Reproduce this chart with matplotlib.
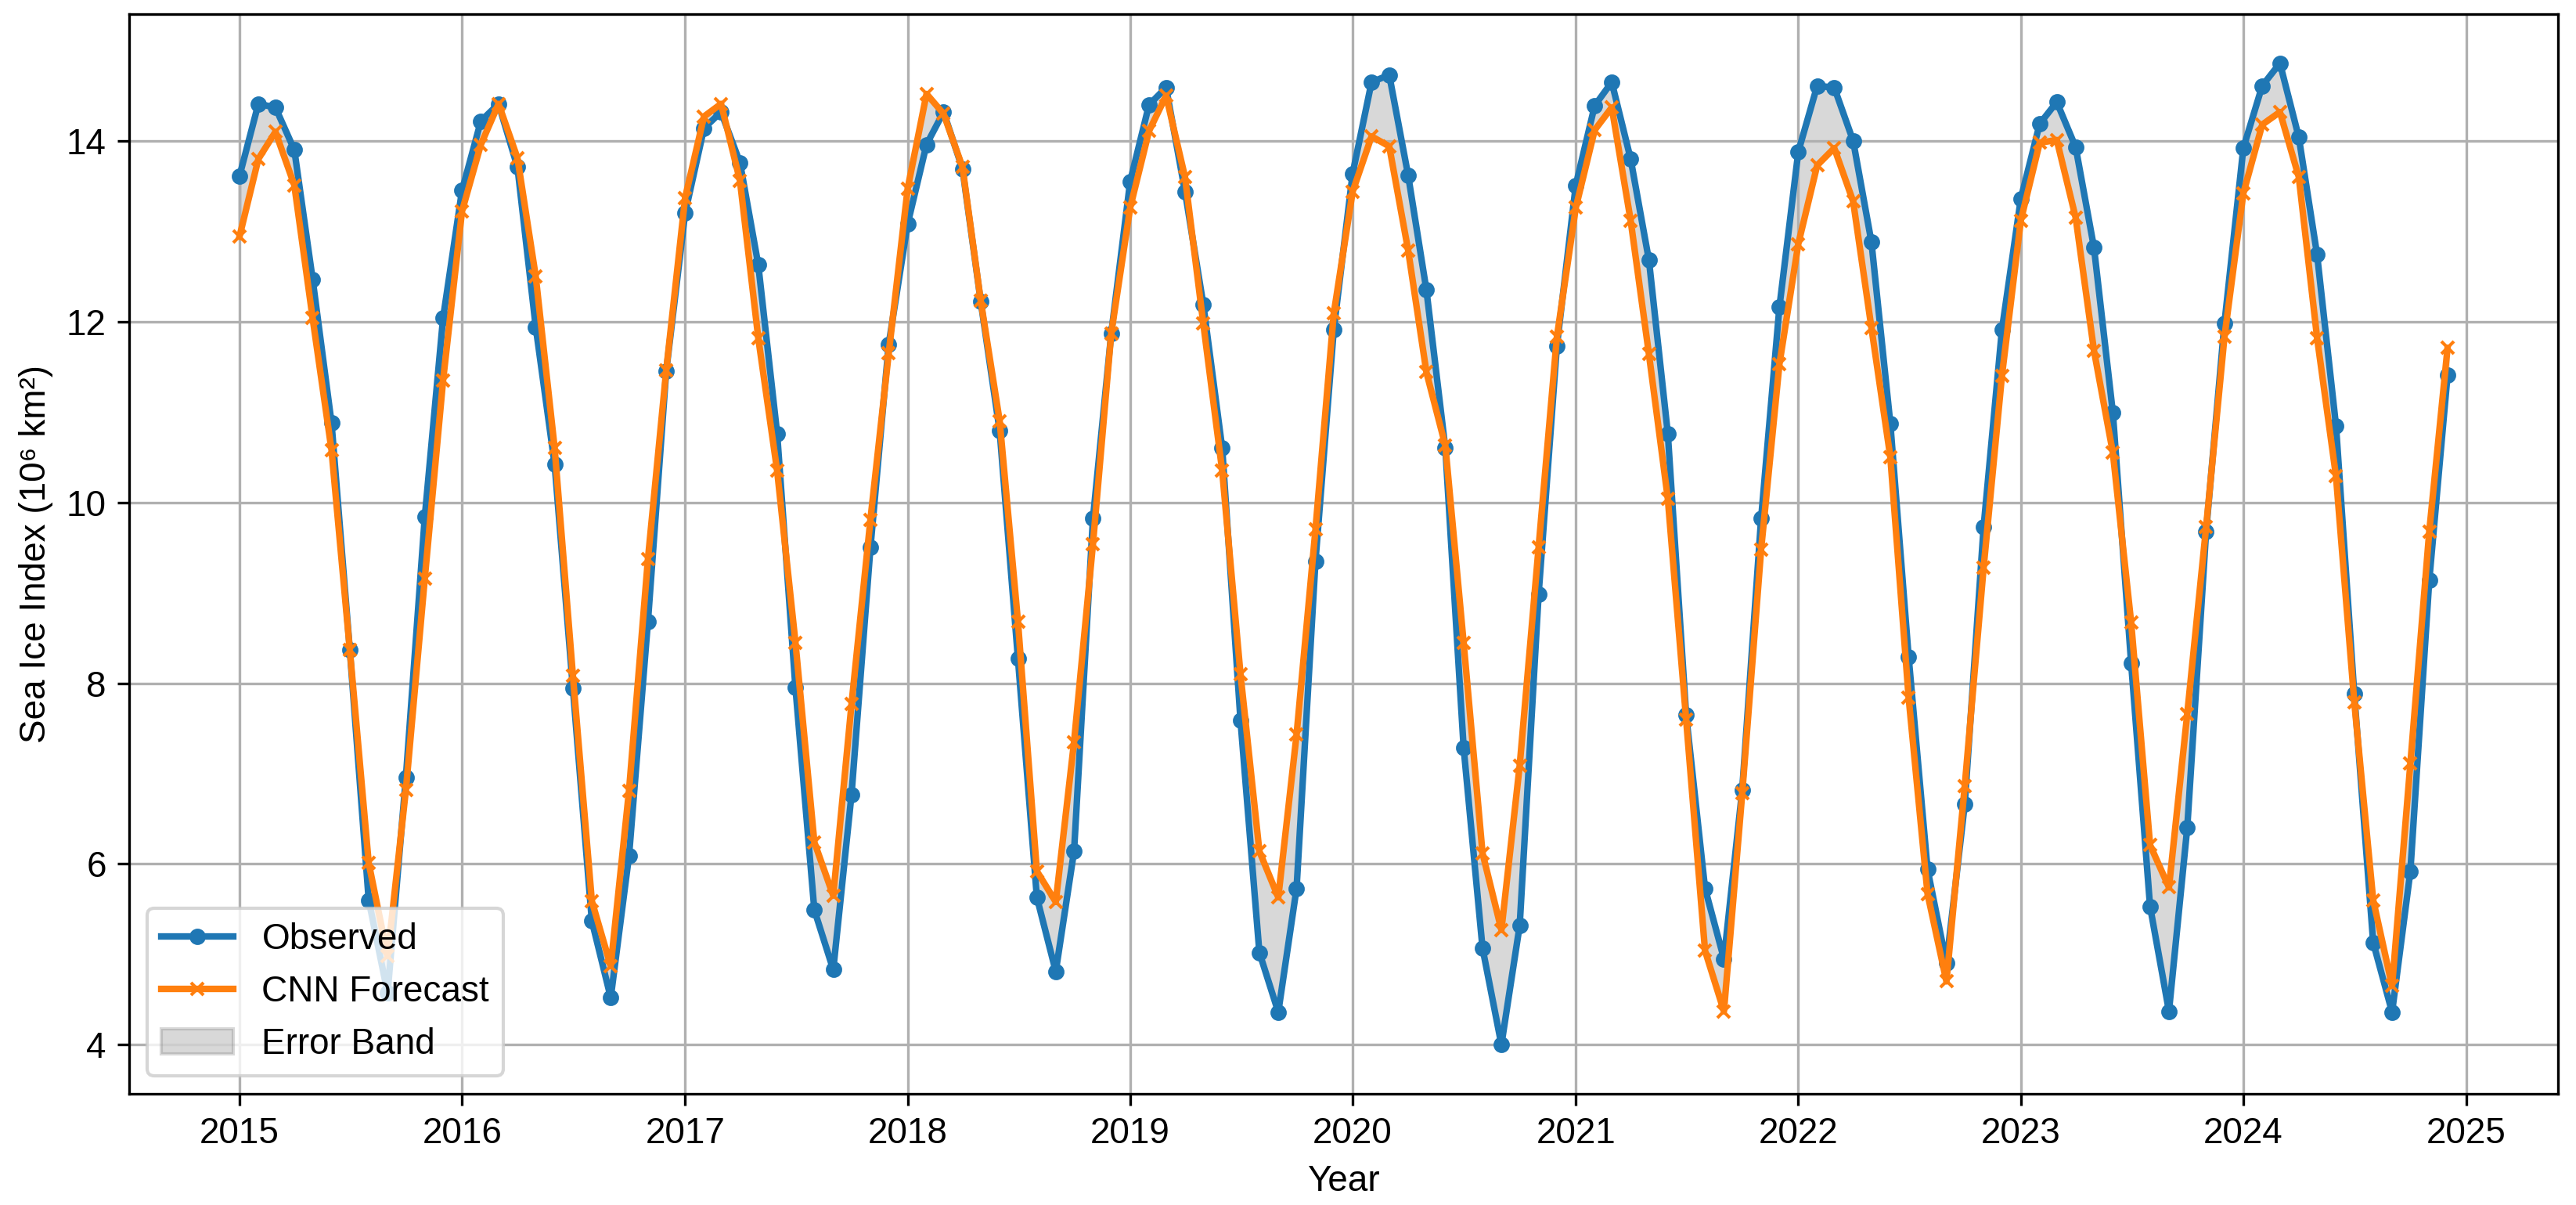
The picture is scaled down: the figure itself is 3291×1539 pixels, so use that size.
import numpy as np
import pandas as pd
import matplotlib
matplotlib.use("Agg")
import matplotlib.pyplot as plt

plt.rcParams['font.family'] = ['Liberation Sans', 'DejaVu Sans']
plt.rcParams['font.size'] = 11

# monthly values, Jan 2015 .. Dec 2024
observed = [
    13.61, 14.41, 14.37, 13.90, 12.47, 10.88, 8.37, 5.60, 4.57, 6.96, 9.84, 12.04,
    13.45, 14.22, 14.41, 13.71, 11.94, 10.42, 7.94, 5.37, 4.52, 6.09, 8.68, 11.45,
    13.20, 14.14, 14.32, 13.76, 12.63, 10.76, 7.95, 5.49, 4.83, 6.77, 9.50, 11.75,
    13.08, 13.96, 14.32, 13.69, 12.22, 10.79, 8.27, 5.63, 4.81, 6.14, 9.82, 11.87,
    13.55, 14.40, 14.59, 13.44, 12.19, 10.60, 7.59, 5.02, 4.36, 5.73, 9.35, 11.91,
    13.64, 14.65, 14.73, 13.62, 12.35, 10.60, 7.29, 5.07, 4.00, 5.32, 8.98, 11.73,
    13.51, 14.39, 14.65, 13.80, 12.68, 10.76, 7.65, 5.73, 4.95, 6.82, 9.82, 12.16,
    13.88, 14.61, 14.59, 14.00, 12.88, 10.87, 8.29, 5.94, 4.90, 6.66, 9.73, 11.91,
    13.36, 14.19, 14.43, 13.93, 12.82, 10.99, 8.22, 5.53, 4.37, 6.40, 9.68, 11.98,
    13.92, 14.61, 14.86, 14.04, 12.74, 10.85, 7.88, 5.13, 4.36, 5.92, 9.14, 11.41,
]

forecast = [
    12.94, 13.80, 14.10, 13.51, 12.04, 10.58, 8.37, 6.01, 4.98, 6.82, 9.16, 11.35,
    13.22, 13.96, 14.41, 13.81, 12.50, 10.60, 8.08, 5.59, 4.87, 6.81, 9.37, 11.46,
    13.37, 14.27, 14.41, 13.56, 11.82, 10.35, 8.45, 6.24, 5.65, 7.77, 9.81, 11.65,
    13.47, 14.52, 14.30, 13.71, 12.23, 10.90, 8.68, 5.92, 5.58, 7.35, 9.54, 11.87,
    13.26, 14.11, 14.50, 13.60, 11.98, 10.35, 8.10, 6.14, 5.63, 7.43, 9.70, 12.09,
    13.44, 14.05, 13.94, 12.79, 11.44, 10.63, 8.45, 6.12, 5.27, 7.09, 9.50, 11.83,
    13.26, 14.12, 14.37, 13.12, 11.64, 10.04, 7.60, 5.04, 4.37, 6.78, 9.48, 11.53,
    12.86, 13.73, 13.92, 13.33, 11.93, 10.50, 7.84, 5.67, 4.70, 6.86, 9.28, 11.40,
    13.12, 13.98, 14.01, 13.15, 11.68, 10.55, 8.67, 6.21, 5.74, 7.66, 9.73, 11.83,
    13.42, 14.18, 14.32, 13.60, 11.82, 10.29, 7.79, 5.60, 4.65, 7.11, 9.68, 11.71,
]

dates = pd.date_range("2015-01-01", periods=len(observed), freq="MS")


def main():
    fig, ax = plt.subplots(figsize=(3291 / 300, 1539 / 300), dpi=300)
    fig.subplots_adjust(left=0.0501, right=0.993, top=0.9883, bottom=0.0923)

    ax.plot(dates, observed, color="#1f77b4", marker="o", markersize=4,
            linewidth=2, label="Observed")
    ax.plot(dates, forecast, color="#ff7f0e", marker="x", markersize=4,
            linewidth=2, label="CNN Forecast")
    ax.fill_between(dates, observed, forecast, color="gray", alpha=0.3,
                    label="Error Band")

    ax.set_xlabel("Year")
    ax.set_ylabel("Sea Ice Index (10⁶ km²)")
    ax.grid(True)
    ax.legend(loc="lower left")

    fig.savefig("out.png", dpi=300)


if __name__ == "__main__":
    main()
